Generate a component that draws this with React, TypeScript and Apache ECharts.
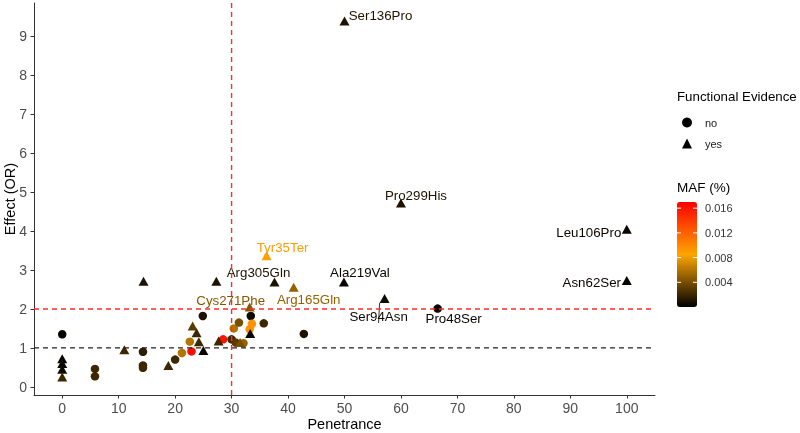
import React, { useEffect, useRef } from "react";
import * as echarts from "echarts";

// ---- axis ticks ----
const xTicks = [0, 10, 20, 30, 40, 50, 60, 70, 80, 90, 100];
const yTicks = [0, 1, 2, 3, 4, 5, 6, 7, 8, 9];
const xRange = [-5, 105];
const yRange = [-0.21, 9.86];
const mafTicks = [0.004, 0.008, 0.012, 0.016];
const mafMax = 0.017;

// ---- Functional Evidence: "no" (circles) ----
const noNames = ["Pro48Ser", "", "", "", "", "", "", "", "", "", "", "", "", "", "", "", "", "", "", "", "", "", ""];
const noPenetrance = [66.5, 0, 5.8, 5.8, 14.3, 14.3, 14.3, 20.0, 21.2, 22.9, 22.6, 24.9, 28.5, 30.0, 30.4, 31.3, 33.4, 33.6, 33.2, 35.7, 42.8, 32.1, 30.7];
const noEffect = [2.01, 1.35, 0.46, 0.27, 0.9, 0.55, 0.49, 0.7, 0.87, 0.91, 1.16, 1.82, 1.22, 1.22, 1.5, 1.65, 1.82, 1.62, 1.48, 1.63, 1.36, 1.12, 1.14];
const noMAF = [0.0003, 0.0003, 0.002, 0.002, 0.0015, 0.002, 0.002, 0.002, 0.006, 0.0165, 0.006, 0.001, 0.016, 0.002, 0.006, 0.004, 0.0005, 0.0095, 0.0095, 0.002, 0.001, 0.005, 0.003];

// ---- Functional Evidence: "yes" (triangles) ----
const yesNames = ["Ser136Pro", "Pro299His", "Leu106Pro", "Asn62Ser", "Tyr35Ter", "Arg305Gln", "Ala219Val", "Arg165Gln", "Cys271Phe", "Ser94Asn", "", "", "", "", "", "", "", "", "", "", "", "", "", "", ""];
const yesPenetrance = [50, 60, 100, 100, 36.2, 37.6, 49.9, 41.0, 33.2, 57.1, 14.4, 27.3, 0, 0, 0, 0, 11.0, 18.8, 25.0, 23.1, 23.8, 27.7, 31.5, 33.3, 24.2];
const yesEffect = [9.4, 4.72, 4.05, 2.73, 3.37, 2.69, 2.69, 2.56, 2.05, 2.27, 2.71, 2.71, 0.72, 0.6, 0.45, 0.25, 0.95, 0.55, 0.93, 1.56, 1.39, 1.18, 1.14, 1.37, 1.16];
const yesMAF = [0.001, 0.001, 0.0003, 0.0003, 0.0088, 0.001, 0.0003, 0.005, 0.0045, 0.0005, 0.001, 0.001, 0.0003, 0.0005, 0.0005, 0.002, 0.002, 0.002, 0.0003, 0.003, 0.002, 0.002, 0.004, 0.0003, 0.002];

// ---- reference lines ----
const redEffectLines = [2];
const blackEffectLines = [1];
const redPenetranceLines = [30];

// label placement (text centre relative to point, px)
const labelOffsets: Record<string, [number, number]> = {
  Ser136Pro: [36, -5],
  Pro299His: [15, -8],
  Leu106Pro: [-38, 3],
  Asn62Ser: [-35, 2],
  Tyr35Ter: [16, -8],
  Arg305Gln: [-16, -10],
  Ala219Val: [16, -10],
  Arg165Gln: [15, 12],
  Cys271Phe: [-19, -7],
  Ser94Asn: [-6, 18],
  Pro48Ser: [16, 10],
};

const FONT = "'Liberation Sans', Arial, sans-serif";

function buildData(names: string[], xs: number[], ys: number[], mafs: number[]) {
  return xs.map((x, i) => {
    const name = names[i];
    const item: any = { name: name || undefined, value: [x, ys[i], mafs[i]] };
    if (name) {
      item.label = {
        show: true,
        position: "inside",
        offset: labelOffsets[name] || [0, 0],
        color: "inherit",
        opacity: 1,
        fontSize: 13.3,
        fontFamily: FONT,
        formatter: name,
      };
      if (name === "Ser94Asn") {
        item.labelLine = { show: true, lineStyle: { color: "#000", width: 0.8, opacity: 1 } };
      }
    }
    return item;
  });
}

function refLine(name: string, pts: number[][], color: string, width: number) {
  return {
    name,
    type: "line",
    data: pts,
    symbol: "none",
    silent: true,
    z: 3,
    lineStyle: { color, type: [5, 4], width, opacity: 1 },
  };
}

export default function App() {
  const ref = useRef<HTMLDivElement>(null);

  useEffect(() => {
    if (!ref.current) return;
    const chart = echarts.init(ref.current, undefined, { renderer: "svg" });

    const barLeft = 677;
    const barTop = 202;
    const barW = 20;
    const barH = 105;

    const graphics: any[] = [
      {
        type: "text",
        left: 677,
        top: 90,
        style: { text: "Functional Evidence", fontSize: 13.3, fontFamily: FONT, fill: "#000" },
      },
      {
        type: "text",
        left: 677,
        top: 180,
        style: { text: "MAF (%)", fontSize: 13.5, fontFamily: FONT, fill: "#000" },
      },
    ];
    mafTicks.forEach((v) => {
      const y = barTop + (1 - v / mafMax) * barH;
      graphics.push({
        type: "text",
        x: barLeft + barW + 8,
        y: y,
        style: {
          text: v.toFixed(3),
          fontSize: 11,
          fontFamily: FONT,
          fill: "#333",
          verticalAlign: "middle",
          align: "left",
        },
        z: 10,
      });
      graphics.push({
        type: "line",
        shape: { x1: barLeft, y1: y, x2: barLeft + 4, y2: y },
        style: { stroke: "#fff", lineWidth: 1 },
        z: 10,
      });
      graphics.push({
        type: "line",
        shape: { x1: barLeft + barW - 4, y1: y, x2: barLeft + barW, y2: y },
        style: { stroke: "#fff", lineWidth: 1 },
        z: 10,
      });
    });

    const red = "#ff2b2b";
    const black = "#222222";

    chart.setOption({
      animation: false,
      grid: { left: 34, right: 145, top: 3, bottom: 38, outerBoundsMode: "none", containLabel: false },
      xAxis: {
        type: "value",
        min: xRange[0],
        max: xRange[1],
        name: "Penetrance",
        nameLocation: "middle",
        nameGap: 21,
        nameMoveOverlap: false,
        nameTextStyle: { fontSize: 14.5, fontFamily: FONT, color: "#000" },
        splitLine: { show: false },
        axisLine: { onZero: false, lineStyle: { color: "#333", width: 1 } },
        axisTick: { show: true, length: 3.5, customValues: xTicks, lineStyle: { color: "#333" } },
        axisLabel: { customValues: xTicks, fontSize: 14, fontFamily: FONT, color: "#4d4d4d", margin: 6 },
      },
      yAxis: {
        type: "value",
        min: yRange[0],
        max: yRange[1],
        name: "Effect (OR)",
        nameLocation: "middle",
        nameGap: 17,
        nameMoveOverlap: false,
        nameTextStyle: { fontSize: 14.5, fontFamily: FONT, color: "#000" },
        splitLine: { show: false },
        axisLine: { show: true, onZero: false, lineStyle: { color: "#333", width: 1 } },
        axisTick: { show: true, length: 3.5, customValues: yTicks, lineStyle: { color: "#333" } },
        axisLabel: { customValues: yTicks, fontSize: 14, fontFamily: FONT, color: "#4d4d4d", margin: 7 },
      },
      legend: {
        orient: "vertical",
        left: 682,
        top: 117,
        padding: 0,
        itemWidth: 10,
        itemHeight: 10,
        itemGap: 10,
        selectedMode: false,
        textStyle: { fontSize: 11, fontFamily: FONT, color: "#1a1a1a", padding: [0, 0, 0, 8] },
        data: [
          { name: "no", icon: "circle", itemStyle: { color: "#000", opacity: 1 } },
          { name: "yes", icon: "triangle", itemStyle: { color: "#000", opacity: 1 } },
        ],
      },
      visualMap: {
        type: "continuous",
        min: 0,
        max: mafMax,
        dimension: 2,
        seriesIndex: [0, 1],
        calculable: false,
        left: barLeft,
        top: barTop,
        itemWidth: barW,
        itemHeight: barH,
        padding: 0,
        text: null,
        hoverLink: false,
        inRange: { color: ["#000000", "#FFA500", "#FF0000"] },
      },
      graphic: graphics,
      series: [
        {
          name: "no",
          type: "scatter",
          symbol: "circle",
          symbolSize: 8.5,
          itemStyle: { opacity: 1 },
          data: buildData(noNames, noPenetrance, noEffect, noMAF),
          z: 2,
        },
        {
          name: "yes",
          type: "scatter",
          symbol: "triangle",
          symbolSize: [10, 9],
          itemStyle: { opacity: 1 },
          data: buildData(yesNames, yesPenetrance, yesEffect, yesMAF),
          z: 2,
        },
        ...redEffectLines.map((v, i) => refLine("redH" + i, [[xRange[0], v], [xRange[1], v]], red, 1.4)),
        ...blackEffectLines.map((v, i) => refLine("blackH" + i, [[xRange[0], v], [xRange[1], v]], black, 1.2)),
        ...redPenetranceLines.map((v, i) => refLine("redV" + i, [[v, yRange[0]], [v, yRange[1]]], red, 1.4)),
      ],
    });

    return () => chart.dispose();
  }, []);

  return <div ref={ref} style={{ width: 800, height: 433, position: "fixed", left: 0, top: 0 }} />;
}
